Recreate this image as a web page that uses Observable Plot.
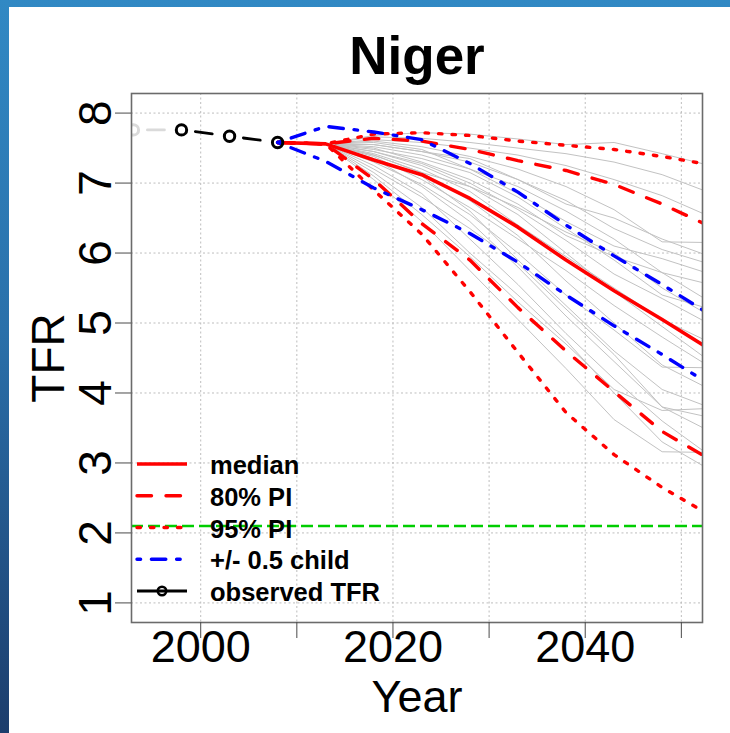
<!DOCTYPE html>
<html>
<head>
<meta charset="utf-8">
<script src="https://cdn.jsdelivr.net/npm/d3@7"></script>
<script src="https://cdn.jsdelivr.net/npm/@observablehq/plot@0.6"></script>
<style>
  html, body { margin: 0; padding: 0; }
  body {
    width: 730px; height: 733px; overflow: hidden; position: relative;
    background: linear-gradient(to bottom, #3189c4 0%, #2a70aa 45%, #1c3d6c 100%);
  }
  #panel { position: absolute; left: 9px; top: 7px; right: 0; bottom: 0; background: #fff; }
  #chart { position: absolute; left: 0; top: 0; }
</style>
</head>
<body>
<div id="panel"></div>
<div id="chart"></div>
<script>
// Niger: total fertility rate, observed and projected (bayesTFR-style fan)
const country = "Niger";

// Observed TFR (first point is outside the estimation period, drawn in grey)
const observedYears = [1993, 1998, 2003, 2008];
const observedTFR   = [7.76, 7.76, 7.67, 7.58];

// Projection periods
const projYears = [2008, 2013, 2018, 2023, 2028, 2033, 2038, 2043, 2048, 2053];

const medianTFR  = [7.58, 7.56, 7.33, 7.12, 6.78, 6.37, 5.90, 5.46, 5.05, 4.62];
const pi80Upper  = [7.58, 7.56, 7.64, 7.60, 7.48, 7.32, 7.18, 6.98, 6.70, 6.38];
const pi80Lower  = [7.58, 7.56, 7.05, 6.42, 5.90, 5.22, 4.60, 4.02, 3.45, 3.05];
const pi95Upper  = [7.58, 7.56, 7.70, 7.72, 7.68, 7.60, 7.54, 7.48, 7.38, 7.26];
const pi95Lower  = [7.58, 7.56, 6.90, 6.27, 5.45, 4.58, 3.72, 3.12, 2.65, 2.25];
const halfChildUpper = [7.58, 7.81, 7.73, 7.62, 7.28, 6.87, 6.40, 5.96, 5.55, 5.12];
const halfChildLower = [7.58, 7.31, 6.93, 6.62, 6.28, 5.87, 5.40, 4.96, 4.55, 4.12];

// A sample of simulated trajectories
const trajectories = [
  [7.58, 7.56, 7.68, 7.72, 7.70, 7.63, 7.55, 7.58, 7.42, 7.25],
  [7.58, 7.56, 7.66, 7.64, 7.58, 7.50, 7.42, 7.30, 7.12, 6.86],
  [7.58, 7.56, 7.62, 7.58, 7.50, 7.40, 7.25, 7.05, 6.82, 6.52],
  [7.58, 7.56, 7.60, 7.52, 7.38, 7.20, 6.95, 6.62, 6.16, 6.15],
  [7.58, 7.56, 7.55, 7.45, 7.30, 7.05, 6.75, 6.35, 6.05, 5.84],
  [7.58, 7.56, 7.58, 7.48, 7.20, 6.85, 6.45, 6.10, 5.92, 5.70],
  [7.58, 7.56, 7.52, 7.40, 7.20, 6.95, 6.60, 6.20, 5.72, 5.30],
  [7.58, 7.56, 7.50, 7.30, 7.05, 6.70, 6.25, 5.95, 5.72, 5.55],
  [7.58, 7.56, 7.45, 7.28, 7.00, 6.62, 6.18, 5.70, 5.35, 4.98],
  [7.58, 7.56, 7.42, 7.20, 6.88, 6.40, 5.95, 5.50, 5.05, 4.72],
  [7.58, 7.56, 7.40, 7.15, 6.95, 6.55, 6.00, 5.45, 4.95, 4.45],
  [7.58, 7.56, 7.38, 7.05, 6.65, 6.20, 5.75, 5.25, 4.80, 4.37],
  [7.58, 7.56, 7.30, 6.98, 6.55, 6.00, 5.40, 4.90, 4.37, 4.36],
  [7.58, 7.56, 7.35, 7.10, 6.60, 5.90, 5.25, 4.60, 4.05, 3.79],
  [7.58, 7.56, 7.20, 6.80, 6.35, 5.85, 5.20, 4.55, 3.80, 3.65],
  [7.58, 7.56, 7.25, 6.85, 6.20, 5.55, 4.85, 4.20, 3.60, 3.10],
  [7.58, 7.56, 7.10, 6.55, 5.95, 5.30, 4.70, 4.05, 3.75, 3.78],
  [7.58, 7.56, 7.05, 6.45, 5.75, 5.05, 4.35, 3.62, 3.16, 3.15],
  [7.58, 7.56, 7.15, 6.65, 6.00, 5.40, 4.75, 4.00, 3.30, 2.90],
  [7.58, 7.56, 7.45, 7.25, 6.95, 6.65, 6.30, 6.00, 5.50, 5.10],
  [7.58, 7.56, 7.55, 7.45, 7.35, 7.05, 6.70, 6.50, 6.20, 5.95],
  [7.58, 7.56, 7.48, 7.35, 7.15, 6.80, 6.35, 5.90, 5.40, 5.20],
  [7.58, 7.56, 7.40, 7.15, 6.75, 6.25, 5.60, 5.00, 4.40, 4.05],
  [7.58, 7.56, 7.35, 6.95, 6.45, 5.80, 5.10, 4.45, 3.80, 3.45]
];

const replacementTFR = 2.1;

// Axes
const xTicks = [2000, 2010, 2020, 2030, 2040, 2050];
const xTickLabels = [2000, 2020, 2040];
const yTicks = [1, 2, 3, 4, 5, 6, 7, 8];

const legendLabels = ["median", "80% PI", "95% PI", "+/- 0.5 child", "observed TFR"];

// ---- tables built from the arrays above ----
const series = (values) => projYears.map((year, i) => ({year, tfr: values[i]}));
const trajTable = trajectories.flatMap((vals, id) => projYears.map((year, i) => ({id, year, tfr: vals[i]})));
const observed = observedYears.map((year, i) => ({year, tfr: observedTFR[i]}));
const observedPast = observed.slice(0, 2);
const observedMain = observed.slice(1);

const RED = "#ff0000", BLUE = "#0000ff", GREEN = "#00cd00", GREY = "#c2c2c2";
const DASH80 = "14.5,14.5";
const DOT95 = "3.4,10.1";
const DOTDASH = "3.6,10.8,14.4,10.8";
const OBS_DASH = {strokeDasharray: "17,31.4", strokeDashoffset: 34.4};

const plot = Plot.plot({
  width: 730,
  height: 733,
  marginLeft: 131,
  marginRight: 28,
  marginTop: 93,
  marginBottom: 111,
  x: {domain: [1992.8, 2052.2]},
  y: {domain: [0.72, 8.28]},
  style: {
    background: "transparent",
    fontFamily: "'Liberation Sans', Arial, sans-serif",
    color: "#000",
    overflow: "visible"
  },
  marks: [
    Plot.gridX(xTicks, {stroke: "#bdbdbd", strokeOpacity: 1, strokeDasharray: "2,2.5"}),
    Plot.gridY(yTicks, {stroke: "#bdbdbd", strokeOpacity: 1, strokeDasharray: "2,2.5"}),

    // simulated trajectories
    Plot.line(trajTable, {x: "year", y: "tfr", z: "id", stroke: GREY, strokeWidth: 1, clip: true}),

    // prediction intervals
    Plot.line(series(pi95Upper), {x: "year", y: "tfr", stroke: RED, strokeWidth: 3.4, strokeDasharray: DOT95, strokeLinecap: "round", clip: true}),
    Plot.line(series(pi95Lower), {x: "year", y: "tfr", stroke: RED, strokeWidth: 3.4, strokeDasharray: DOT95, strokeLinecap: "round", clip: true}),
    Plot.line(series(pi80Upper), {x: "year", y: "tfr", stroke: RED, strokeWidth: 3.4, strokeDasharray: DASH80, strokeLinecap: "round", clip: true}),
    Plot.line(series(pi80Lower), {x: "year", y: "tfr", stroke: RED, strokeWidth: 3.4, strokeDasharray: DASH80, strokeLinecap: "round", clip: true}),

    // median
    Plot.line(series(medianTFR), {x: "year", y: "tfr", stroke: RED, strokeWidth: 3.6, clip: true}),

    // +/- half a child
    Plot.line(series(halfChildUpper), {x: "year", y: "tfr", stroke: BLUE, strokeWidth: 3.4, strokeDasharray: DOTDASH, strokeLinecap: "round", clip: true}),
    Plot.line(series(halfChildLower), {x: "year", y: "tfr", stroke: BLUE, strokeWidth: 3.4, strokeDasharray: DOTDASH, strokeLinecap: "round", clip: true}),

    // observed
    Plot.line(observedPast, {x: "year", y: "tfr", stroke: "#dadada", strokeWidth: 2.8, ...OBS_DASH, clip: true}),
    Plot.dot(observedPast.slice(0, 1), {x: "year", y: "tfr", r: 5.2, stroke: "#dadada", strokeWidth: 3, fill: "none", clip: true}),
    Plot.line(observedMain, {x: "year", y: "tfr", stroke: "#000", strokeWidth: 2.8, ...OBS_DASH, clip: true}),
    Plot.dot(observedMain, {x: "year", y: "tfr", r: 5.2, stroke: "#000", strokeWidth: 3, fill: "none", clip: true}),

    // replacement level
    Plot.ruleY([replacementTFR], {stroke: GREEN, strokeWidth: 2.4, strokeDasharray: "12,5"}),

    Plot.frame({stroke: "#6b6b6b", strokeWidth: 1.6}),

    // axes
    Plot.axisY(yTicks, {tickSize: 16, tickPadding: 5, tickRotate: -90, fontSize: 46, stroke: "#4a4a4a", tickFormat: d => String(d), label: null}),
    Plot.axisX(xTicks, {tickSize: 16, stroke: "#4a4a4a", tickFormat: () => "", label: null}),
    Plot.axisX(xTickLabels, {tickSize: 0, tickPadding: 8, fontSize: 45, tickFormat: d => String(d), label: null}),

    // axis titles and heading
    Plot.text(["TFR"], {frameAnchor: "left", dx: -68, rotate: -90, textAnchor: "middle", lineAnchor: "bottom", fontSize: 46}),
    Plot.text(["Year"], {frameAnchor: "bottom", dy: 89, lineAnchor: "bottom", fontSize: 45}),
    Plot.text([country], {frameAnchor: "top", dy: -20, lineAnchor: "bottom", fontSize: 53, fontWeight: "bold"})
  ]
});

document.getElementById("chart").appendChild(plot);

// Legend in the lower-left corner of the panel
{
  const svg = d3.select(plot);
  const x = plot.scale("x"), y = plot.scale("y");
  const left = x.range[0], bottom = y.range[0];
  const styles = [
    {stroke: RED, dash: null, width: 3.6},
    {stroke: RED, dash: DASH80, width: 3.4},
    {stroke: RED, dash: DOT95, width: 3.4},
    {stroke: BLUE, dash: DOTDASH, width: 3.4},
    {stroke: "#000", dash: null, width: 2.8, point: true}
  ];
  const rowStep = 31.75;
  const g = svg.append("g").attr("class", "legend").attr("text-anchor", "start");
  legendLabels.forEach((label, i) => {
    const cy = bottom - 158 + i * rowStep;
    const s = styles[i];
    g.append("line")
      .attr("x1", left + 6).attr("x2", left + 56)
      .attr("y1", cy).attr("y2", cy)
      .attr("stroke", s.stroke).attr("stroke-width", s.width)
      .attr("stroke-linecap", s.dash ? "round" : "butt")
      .attr("stroke-dasharray", s.dash);
    if (s.point) {
      g.append("circle").attr("cx", left + 31).attr("cy", cy).attr("r", 4.2)
        .attr("fill", "none").attr("stroke", "#000").attr("stroke-width", 2.6);
    }
    g.append("text")
      .attr("x", left + 79).attr("y", cy + 10)
      .attr("text-anchor", "start")
      .attr("font-size", 25.5).attr("font-weight", "bold")
      .attr("fill", "#000")
      .text(label);
  });
}
</script>
</body>
</html>
